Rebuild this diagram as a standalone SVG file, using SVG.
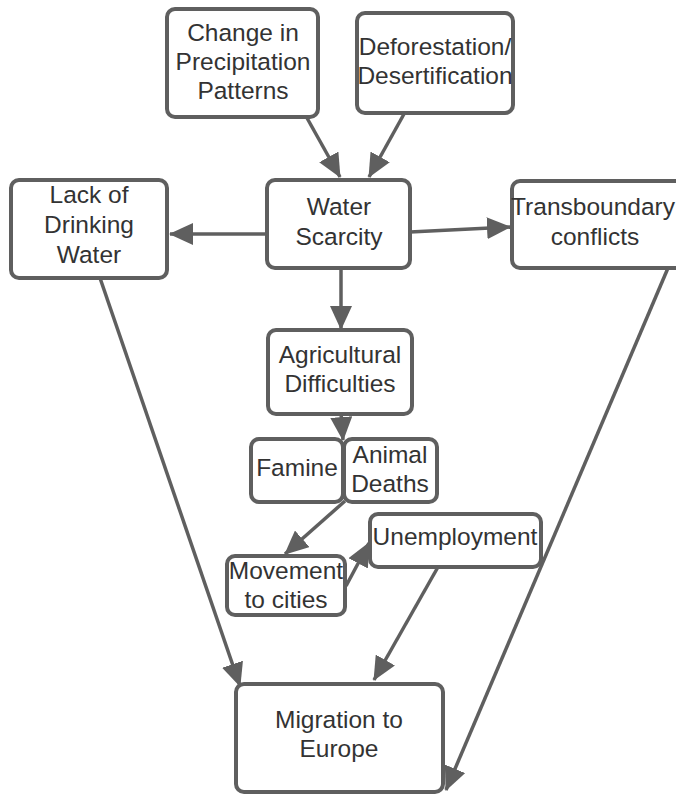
<svg xmlns="http://www.w3.org/2000/svg" width="676" height="795" viewBox="0 0 676 795">
<style>
.box{fill:#fff;stroke:#5f5f5f;stroke-width:4}
.t{font-family:"Liberation Sans",Arial,sans-serif;font-size:24.5px;fill:#333;text-anchor:middle}
.c{stroke:#5f5f5f;stroke-width:3.5;fill:none;marker-end:url(#ah)}
</style>
<defs>
<marker id="ah" markerUnits="userSpaceOnUse" viewBox="0 0 24 22" refX="23" refY="11" markerWidth="24" markerHeight="22" orient="auto">
<path d="M0,0 L24,11 L0,22 Z" fill="#5f5f5f"/>
</marker>
</defs>
<rect width="676" height="795" fill="#fff"/>
<g id="connectors">
<line class="c" x1="307" y1="118" x2="340" y2="177"/>
<line class="c" x1="404" y1="114" x2="369" y2="177"/>
<line class="c" x1="270" y1="234" x2="170" y2="234"/>
<line class="c" x1="410" y1="232" x2="510" y2="227"/>
<line class="c" x1="341" y1="268" x2="341" y2="329"/>
<line class="c" x1="341" y1="413" x2="343" y2="440"/>
<line class="c" x1="345" y1="501" x2="285" y2="554"/>
<line class="c" x1="346" y1="586" x2="369" y2="543"/>
<line class="c" x1="438" y1="567" x2="374" y2="680"/>
<line class="c" x1="100" y1="278" x2="240" y2="686"/>
<line class="c" x1="668" y1="268" x2="446" y2="790"/>
</g>
<g id="precipitation"><rect class="box" x="167" y="9" width="151" height="108" rx="8"/><text class="t" x="243" y="41">Change in</text><text class="t" x="243" y="70">Precipitation</text><text class="t" x="243" y="99">Patterns</text></g>
<g id="deforestation"><rect class="box" x="357" y="13" width="156" height="100" rx="8"/><text class="t" x="435" y="55">Deforestation/</text><text class="t" x="435" y="84">Desertification</text></g>
<g id="lack-water"><rect class="box" x="11" y="180" width="156" height="98" rx="8"/><text class="t" x="89" y="203">Lack of</text><text class="t" x="89" y="233">Drinking</text><text class="t" x="89" y="263">Water</text></g>
<g id="water-scarcity"><rect class="box" x="267" y="180" width="143" height="88" rx="8"/><text class="t" x="339" y="215">Water</text><text class="t" x="339" y="245">Scarcity</text></g>
<g id="transboundary"><rect class="box" x="512" y="181" width="180" height="87" rx="8"/><text class="t" x="593" y="215" font-size="24">Transboundary</text><text class="t" x="595" y="245">conflicts</text></g>
<g id="agricultural"><rect class="box" x="268" y="330" width="144" height="84" rx="8"/><text class="t" x="340" y="363">Agricultural</text><text class="t" x="340" y="392">Difficulties</text></g>
<g id="famine"><rect class="box" x="251" y="439" width="92" height="63" rx="8"/><text class="t" x="297" y="476">Famine</text></g>
<g id="animal-deaths"><rect class="box" x="344" y="439" width="93" height="63" rx="8"/><text class="t" x="390" y="463">Animal</text><text class="t" x="390" y="492">Deaths</text></g>
<g id="movement"><rect class="box" x="227" y="556" width="118" height="59" rx="8"/><text class="t" x="286" y="579">Movement</text><text class="t" x="286" y="608">to cities</text></g>
<g id="unemployment"><rect class="box" x="370" y="514" width="171" height="53" rx="8"/><text class="t" x="455" y="545">Unemployment</text></g>
<g id="migration"><rect class="box" x="236" y="684" width="207" height="108" rx="8"/><text class="t" x="339" y="728">Migration to</text><text class="t" x="339" y="757">Europe</text></g>
</svg>
